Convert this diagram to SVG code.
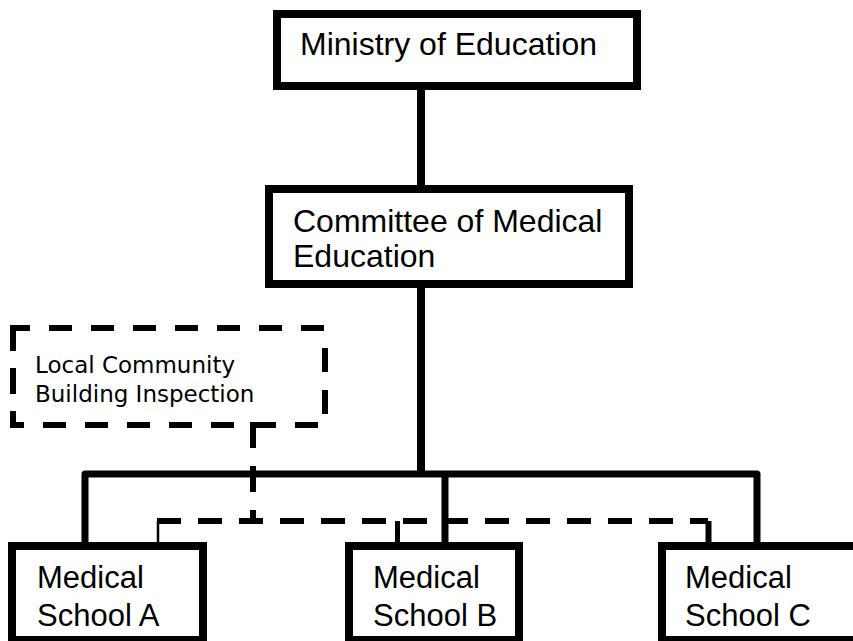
<svg xmlns="http://www.w3.org/2000/svg" width="853" height="641" viewBox="0 0 853 641">
  <style>
    .box { fill: #ffffff; stroke: #000000; stroke-width: 8; }
    .lbl { font-family: "Liberation Sans", Arial, sans-serif; font-size: 32px; fill: #000000; }
    .slbl { font-family: "Liberation Sans", Arial, sans-serif; font-size: 31px; fill: #000000; }
    .dlbl { font-family: "DejaVu Sans", Verdana, sans-serif; font-size: 23px; fill: #000000; }
    .solid { fill: none; stroke: #000000; stroke-width: 8; }
    .bus { fill: none; stroke: #000000; stroke-width: 7; stroke-linejoin: round; }
    .dash { fill: none; stroke: #000000; stroke-width: 6; }
  </style>
  <rect width="853" height="641" fill="#ffffff"/>

  <g id="connectors">
    <line class="solid" x1="421" y1="88" x2="421" y2="187"/>
    <line class="solid" x1="421" y1="286" x2="421" y2="474"/>
    <path class="bus" d="M85,544 V474 H757 V544"/>
    <line class="bus" x1="445" y1="474" x2="445" y2="544"/>
    <path class="dash" d="M253,422 V521" stroke-dasharray="26 18"/>
    <path class="dash" d="M157,521 H708" stroke-dasharray="24 17"/>
    <line x1="158" y1="521" x2="158" y2="544" stroke="#000" stroke-width="2.5"/>
    <line x1="397.5" y1="521" x2="397.5" y2="544" stroke="#000" stroke-width="5"/>
    <line x1="708.5" y1="521" x2="708.5" y2="544" stroke="#000" stroke-width="6"/>
  </g>

  <g id="ministry">
    <rect class="box" x="277" y="14" width="360" height="72"/>
    <text class="lbl" x="300" y="55">Ministry of Education</text>
  </g>

  <g id="committee">
    <rect class="box" x="269" y="189" width="360" height="95"/>
    <text class="lbl" x="293" y="232">Committee of Medical</text>
    <text class="lbl" x="293" y="267">Education</text>
  </g>

  <g id="inspection">
    <path class="dash" d="M10,328 H328" stroke-dasharray="23 19" stroke-dashoffset="3"/>
    <path class="dash" d="M325,348 V428" stroke-dasharray="24 18"/>
    <path class="dash" d="M10,425 H328" stroke-dasharray="23 19" stroke-dashoffset="9"/>
    <path class="dash" d="M13,325 V428" stroke-dasharray="26 17"/>
    <text class="dlbl" x="35" y="373">Local Community</text>
    <text class="dlbl" x="35" y="402">Building Inspection</text>
  </g>

  <g id="school-a">
    <rect class="box" x="12" y="546" width="191" height="94"/>
    <text class="slbl" x="37" y="588">Medical</text>
    <text class="slbl" x="37" y="626">School A</text>
  </g>

  <g id="school-b">
    <rect class="box" x="349" y="546" width="170" height="94"/>
    <text class="slbl" x="373" y="588">Medical</text>
    <text class="slbl" x="373" y="626">School B</text>
  </g>

  <g id="school-c">
    <rect class="box" x="662" y="546" width="200" height="94"/>
    <text class="slbl" x="685" y="588">Medical</text>
    <text class="slbl" x="685" y="626">School C</text>
  </g>
</svg>
